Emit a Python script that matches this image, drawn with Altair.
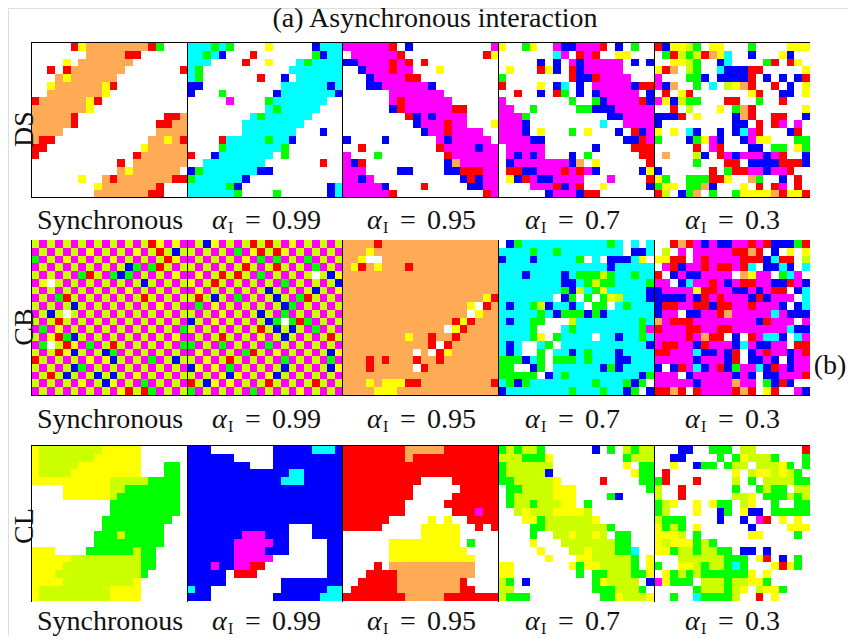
import altair as alt
import pandas as pd

DS_SYNC = [".....RYOOOOOOOORG...",".......OOOOORR......","....Y.OOOOOOO.......","..R.ROOOOOOO.......R","...OYOOOOOO.........","..YOOOOOOYR.........","..OOOOOOOY..........","ROOOOOOYR...........","OOOOOOOY............","OOOOOR...........RRO","OOOOOR..........RROO","OOOO............OOOO","ORR............OOYOR","RR............YOOOOO","R............ROOOOOO","...........R.OOOOOOO","...........OYOOOOOO.","......Y..OROOOOOOORR","........YOOOOOOOR...","........OOOOOOORR..."]
DS_99 = ["CCCGCG....Y.....BCCC","CCGCB...R.......GBCC","CCC....R..Y...CGCCCC","CG...........CCCCCCC","CG.......R..B.CCCCCC","BB..........CCCCCCBC","B...G......BCCCCCCCB",".....M....GCCCCCCC..","..........CGCCCCC...","........CGCCCCCC....",".......CCCCCCCC.....",".......CCCCCCC...B..","....RCCCCCGCCB......","....GCCCCCCCG.......","R..BCCCCCCC.G.......","..CCCCCCCC.......R..","BGCCCCCCCBB.........","GCCCCCCB............","CCCCCGB...........BC","CCCCCCG....G......BC"]
DS_95 = ["MMMMMMR.B..........M",".MMMMMMR..........RY","BBMMMMRMR.R.........","..BMMMRMM...Y.......","...BMMMMRR..........","...BBMMMMMMB........","......MMMMMMM.......","......MRMMMMMM......","......BRMMMMMMRR....","........RBMBMMMM....",".........BMMMRMM...Y","..........BMMRMMMM..","B....B......MBMMMMM.","..R.........RMMMMBMM","M...G........RMMMMMM","MBR..........BOMMMMM","MMM....BB....BBRRRMM","MMBM...........BRBMM","MMMMMB....R.....BBMM","MMMMMMR...........RM"]
DS_70 = ["Y..GY..MBBMMMR.B.G..",".......CM.RMR..YY...",".....B.B.MBMMMMM.B.B",".Y...RYB.RBMMMMM....","G........RBBRMMMM...","R....Y.BC.B.MMMMMBRR","..R..B.RG.B.BMMMMM.B","M........G..GBMMMMRB","MM..G.....GGBBBMMMMM","MMMG..........BBMMMM","MMMB.........C..MMMM","MMMB.Y...G.Y...B.RBM","MMMMBB..........BBRM",".MMMMM......B....RRR",".MBMBM...B.G......RR",".BMMMMMMMBO.Y......R",".RRBBMMMRMRMB.....BY",".YBRMBBMMMM...M....R","....MMMRBMR..Y.....B","......BMMMBRR......."]
DS_30 = ["RBYYLG.YY...G....YYY",".GRLGLROYC..B...YB..","..YYLG..BC....GR.RY.","YRO.LG..CBBBRR.....Y","M...GGB.BBBBR.B.B.BR","MBO..G.C.LYOR..R.B.Y",".R.YR.......YR..BB.Y","MYBLGG...RR..G..R...","..R.L...Y.GOR......Y","BBBR.Y....BOR..RR..B","B.........BB.R.RM.M.","Y.Y.CB..B.BCMR...BR.","G...BGYMB..BMYY...GG",".....R.MR...BB.GG.YG",".O...LB.RMBMMMBMR..B",".....G...RR.BBBBRRRB","B......R.GRRMMBMMR..","YG..GGGRRY..OG..B.R.","GYY.GGOB...Y.R.RM.R.","RL.BGO.G..GYYYYORYYR"]
CB_SYNC = ["LMLMLMLMLMLMLMLRYMYM","MLMLMLMYMLMLMYMLRLBL","GMLMYMLMLMYMLMLMLRYM","MLMLMLMLMLMLBGMGRLML","LMLMLMGRLMGBGMLMLMYM","MY.LMLMLMLMLMLBLMLML","LMLMLMLMLMLMYMLMLMLM","MLMGRLMLMLMLMLRLMLML","LMLMLBLMLMLMLMLMYMLM","MLBL.LMLMLMLMLMLMLML","LMLRLMLMLMLMLMLMLMLM","MGMYMLMLMLMLMLMLMLMG","LMYRGBLMLMLMLMLMLMYM","MG.LRYMGMLRLMLMLMLMG","LMLRYBLMLBGMLMLMLMLM","RLMLMLMYMYBLMLMGMLBL","LMLMLBGMLMLMLMLMLMLM","MLRLBLMLBLBLMYMLMLML","LMLMLMYMLBYMLMGMLMLM","MLMLMLMLMLMYRLRGMLML"]
CB_99 = ["MLBYMLMLRLRLMYMLMLML","LMLMLMGMYRLRYMLMLMLM","MLMLMLMYMGMGMLMGMLML","LMLMLMLRLMLRLMLMGMLM","MYMLRLRLMGMLMLML.LBY","YMLRLMLMLMLMGMLMLMLB","MYMLMLMLMLBLMLMLBLMY","LRLBLMGMLMLBLMGRLMLM","MGMYMLMLMLMLBGMLMLML","LMLMYMLMLBLMGMLMLMLM","BLMYMLMLMLBG.GRGMLML","LMLMLMLMLRLBLBLMGMLM","MLMLRLMLMYMLBLMLMLRL","GMLMGMLMLMGMLMLMLMLM","MYMLMLMGRLMYMLMLMLBY","LMYMLRLMLMLMGMLMLMGM","BYMYMGMLMLMLBLMLMLBY","LMLMYBYMLMYBLMLMLMLM","RLBYMYMLMLRLMLMLRLML","GMLMLMLMGMLMLMYMLMLM"]
CB_95 = ["OOOOROOOOOOOOOOOOOOO","OOOYOOOOOOOOOOOOOOOO","OOY..OOOOOOOOOOOOOOO","OYROYOOOROOOOOOOOOOO","OOOOOOOOOOOOOOOOOOOO","OOOOOOOOOOOOOOOOOOOO","OOOOOOOOOOOOOOOOOOOO","OOOOOOOOOOOOOOOOOOYR","OOOOOOOOOOOOOOOOY.RO","OOOOOOOOOOOOOOOO.YOO","OOOOOOOOOOOOOORYROOO","OOOOOOOOOOOOO.YROOOO","OOOOOOOOYOOROOROOOOO","OOOOOOOOOOOR.ROOOOOO","OOOOOOOOO.O.RYOOOOOO","OOOROROOOROOROOOOOOO","OOOROOOOO.ROOOOOOOOO","OOOOOOOOOOOOOOOOOOOO","OOOYOYYYRROOOOOOOOOR","OOOOYYYOOOOOOOOOOOOO"]
CB_70 = [".BGCCCCCCCCCCCGC.C.C","CCCCGCCGCCCCCCCC.BBC","BCCCBCCCCCG.C.BBBCY.","CCCCCCCCCCCCCCBCCCCC","CCCBCCCCBCGGGLGCCGCC","CCCCCCCCBBCGLGGCCCCG","CCCCCCCCGBLCGYCCCCCB","CCCCCCC.BG.G.GYLCCCB","CBCCGLBCCBC.GG.CGCCC","CCCCCGCBGGGBGBCCCCCC","CBCCGG...LCCCCCCCCGC","CCCCG...CGCCCCCCCCGM","CCCCGY.GCCCC.CCBCCGC","CBC..CG.CCCCCCCCCCCB","CBC..G.CCBCGCCCBCCCC","GGGBCG.GGGCGCCCBBCCC","GG..BG.CCCCCCBGBCCCC","GGGGG.BCGCCCCCCCCCBG","CGBGCCCCCCCCGCCCGBG.","BCCCCCCCCGCCCGCCBG.B"]
CB_30 = ["..RORMBMBBMMRMRBBBGR",".L.M.MMMMMRROR.B.Y.Y","YYRR.MRMMMMRRRBCRR.L",".MRBMMRMRRMRC.BBCB.C","R.BMBBMMMM.OYMM.GCM.","MM.BCMMRMBMRRMMBBRMB","BMMMMYRRMMBBMBMRR.BC","BBBBMBRMRMMMBRBMMM.C","BRRMMRRBRRMMRMMMB.BC","BMM.BBMMROMMMMMCMBBB","OMRRRMMMMMMMMBRMMM.M","RMMMRRMMRRMMMMMMMCBB","MMMMRMORR.B.RMCCB.CM","MRRMMBRMMMBCMBBMM.RR","RRMMMCBBMBR.BMRMMBMR","MMMMMBMMMBR.BBMB.BMM","B.BRMCBMRBGMMCBRMBMM","MMM.BMMMMMBMB.BBMMMR","MMMMMBMMMMOMM.GBRB..","RROR.RMMMMROR.YR..MB"]
CL_SYNC = ["YLLLLLLLLYYYYY......","YLLLLLLLYYYYYY......","YLLLLLYYYYYYYY...GG.","YLLLLYYYYYYYYY...GG.","YYYYYYYYYYLLLLLGGGG.","....YYYYYYLLGGGGGGG.","....YYYYYYLGGGGGGGG.","..........GGGGGGGGG.","..........GGGGGGGGG.",".........GGGGGGGGG..",".........GGGGGGGG...","........GGGLGGGGG...","........GGGGGGGGG...","YYY....GGGGGGLGG....","YYYYYLLLLLLLLLGG....","YYYYLLLLLLLLLLGG....","YYYLLLLLLLLLLLG.....","YYYYLLLLLLLLLY......","YLLLLLLLLLYYYY......","YLLLLLLLLLYYYY......"]
CL_99 = ["BBB........BBBBBCCCB","BBBBBB.....BBBBBBBBB","BBBBBBBB...BBBBBBBBB","BBBBBBBBBBBBBCCBBBBB","BBBBBBBBBBBBCCCBBBBB","BBBBBBBBBBBBBBBBBBBB","BBBBBBBBBBBBBBBBBBBB","BBBBBBBBBBBBBBBBBBBB","BBBBBBBBBBBBBBBBBBBB","BBBBBBBBBBBBBBBBBBBB","BBBBBBBBBBBBB...BBBB","BBBBBBBMMMBBB...BBBB","BBBBBBMMMMMBB.....BB","BBBBBBMMMMBBB.....BB","BBBBBBMMMMM.......BB","BBBMBBMMRR........BB","BBBBB.RRR.........BB","BBBBB.......BBBBBBBB","CBB.........BBBBBBCC","BBB........BBBBBBCCC"]
CL_95 = ["RRRRRRRROOOOORRRRRRR","RRRRRRRRORRRRRRRRRRR","RRRRRRRRRRRRRRRRRRRR","RRRRRRRRRRRRRRRRRRRR","RRRRRRRRRR....RRRRRR","RRRRRRRRR......RRRRR","RRRRRRRRR.....RRRRRR","RRRRRRRR.....RRRRRRR","RRRRRRRR......RRRMRR","RRRRRR.....Y.Y..RRRR","RRRRR.....YYYYY..R.R","..........YYYYY.....","......YYYYYYYYY.G...","......YYYYYYYYYY....","......YYYYYYYYYYY...","....R.OOOOOOOOOOO...","...RRRROOOOOOOOOO...","..RRRRROOOOOOOOR....",".RRRRRROOOOOOOORR...","RRRRRRRROOOOORRRRRRR"]
CL_70 = ["GLGLLG......B.G.LGLL","LLLGGGY.........GLLL","GLLLLLL.........Y.GG","GLLLLLB..........YGG","GGLLLLLY.....R....GG",".GGLLLLYYY.........G",".GLLLLLYYY....GB....",".GLLGLLLYY.G........","..LYLLLYYYYL........","...YYGLLLLLLY.......","....GGLLLLLLLLG.....","....G..LLYLLYL.GG...","....Y...LLLLLLLGG...",".....Y...LLYLLLGGC..","......Y...YYLLLLLG.Y","YY.......YGYYLLLLG.Y","YY........G.GGLLLGGY","LG.B........GYLLLL.B","LL..........GGGLLLG.","LGGG.........GGYLLLY"]
CL_30 = ["...BB..GGG.LL......R","..BB....G.GYLLLG...G","..Y..BGG.GLL.LLLYG.G",".R........Y.LYYLYLG.","GR...R....L.G.LLLLGG","L..R......G..GLGG.LL","L..R......LLY.GGGLGL","GLY..Y.YGG.LY..G..GG","GL...Y..BG.YBB.GGGGG","LGGG....B..B.MR.Y.Y.","YGLG.Y......B....YYY","YYYL.G......YY....G.","YLYYYGLG............","YYGLLGLLGG.BB.B.....","...LLLLLLGGG.YR.B.G.","G..YYLGLLGCG...YRYG.",".YGLGLGGGGGGY.Y.....","MYGGG.LLLGLLYYG.....",".....GLLLGLY.LYYG...","..G..CGGGGL..R.Y...."]

GRIDS = [
    [DS_SYNC, DS_99, DS_95, DS_70, DS_30],
    [CB_SYNC, CB_99, CB_95, CB_70, CB_30],
    [CL_SYNC, CL_99, CL_95, CL_70, CL_30],
]
ROW_NAMES = ["DS", "CB", "CL"]
ALPHAS = ["0.99", "0.95", "0.7", "0.3"]
COLOR_KEYS = ["O", "R", "Y", "L", "G", "C", "B", "M"]
COLOR_VALUES = ["#ffaa55", "#ff0000", "#ffff00", "#ccff00", "#00ff00", "#00ffff", "#0000ff", "#ff00ff"]

FONT = "Liberation Serif"
PANEL_X = [31.7, 187.4, 342.8, 498.5, 654.4]
PANEL_Y = [43.0, 240.0, 446.0]
LINE_X = [31, 187, 342, 498, 654]
CELL_W = 7.78
CELL_H = 7.75

cells = []
for r, row in enumerate(GRIDS):
    for p, grid in enumerate(row):
        for i, line in enumerate(grid):
            for j, ch in enumerate(line):
                if ch != ".":
                    cells.append(dict(x=PANEL_X[p] + j * CELL_W, x2=PANEL_X[p] + (j + 1) * CELL_W,
                                      y=PANEL_Y[r] + i * CELL_H, y2=PANEL_Y[r] + (i + 1) * CELL_H, c=ch))
cells = pd.DataFrame(cells)

xs = alt.Scale(domain=[8, 848], range=[0, 840], round=True)
ys = alt.Scale(domain=[8, 636], range=[0, 628], round=True)
X = alt.X("x:Q", scale=xs, axis=None)
Y = alt.Y("y:Q", scale=ys, axis=None)

heat = alt.Chart(cells).mark_rect(strokeWidth=0).encode(
    x=X, x2="x2:Q", y=Y, y2="y2:Q",
    color=alt.Color("c:N", scale=alt.Scale(domain=COLOR_KEYS, range=COLOR_VALUES), legend=None),
)

TOPS = [42, 240, 445]
BOTTOMS = [198, 396, 602]
lines = []
for r in range(3):
    for x in LINE_X:
        lines.append(dict(x=x, x2=x + 1, y=TOPS[r], y2=BOTTOMS[r]))
    if r in (0, 2):
        lines.append(dict(x=31, x2=810, y=TOPS[r], y2=TOPS[r] + 1))
    if r in (0, 1):
        lines.append(dict(x=31, x2=810, y=BOTTOMS[r] - 1, y2=BOTTOMS[r]))
frame = alt.Chart(pd.DataFrame(lines)).mark_rect(color="black", strokeWidth=0).encode(
    x=X, x2="x2:Q", y=Y, y2="y2:Q")

LABEL_Y = [229, 428, 630]
ALPHA_X = [212, 367, 525, 685]
SIZE = 28

def text_layer(rows, size, align="center", style="normal", angle=0):
    kw = dict(font=FONT, fontSize=size, align=align, baseline="alphabetic", color="#111111", fontStyle=style)
    if angle:
        kw["angle"] = angle
    return alt.Chart(pd.DataFrame(rows)).mark_text(**kw).encode(x=X, y=Y, text="t:N")

big = [dict(x=109.5, y=ly, t="Synchronous") for ly in LABEL_Y]
eqs, alphas, subs, nums = [], [], [], []
for ly in LABEL_Y:
    for k, s in enumerate(ALPHAS):
        ax = ALPHA_X[k]
        alphas.append(dict(x=ax, y=ly, t="α"))
        subs.append(dict(x=ax + 16, y=ly + 4, t="I"))
        eqs.append(dict(x=ax + 33, y=ly, t="="))
        nums.append(dict(x=ax + 60, y=ly, t=s))

layers = [
    heat, frame,
    text_layer(big, SIZE),
    text_layer(eqs, SIZE, align="left"),
    text_layer(nums, SIZE, align="left"),
    text_layer(alphas, SIZE, align="left", style="italic"),
    text_layer(subs, 16, align="left"),
    text_layer([dict(x=435, y=27, t="(a) Asynchronous interaction")], SIZE),
    text_layer([dict(x=830, y=374, t="(b)")], SIZE),
    text_layer([dict(x=33, y=129, t=ROW_NAMES[0]), dict(x=33, y=327, t=ROW_NAMES[1]), dict(x=33, y=526, t=ROW_NAMES[2])], SIZE, angle=270),
]

chart = alt.layer(*layers).properties(
    width=840, height=628, padding=0, autosize=alt.AutoSizeParams(type="none"),
).configure_view(stroke=None).configure(background="white")

chart.save("out.html", embed_options={"renderer": "svg", "actions": False})
